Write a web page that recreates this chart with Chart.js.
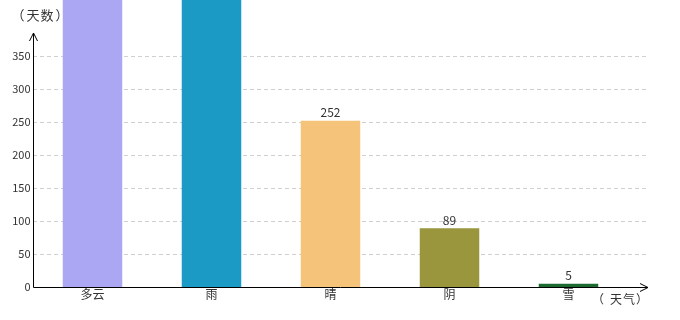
<!DOCTYPE html>
<html>
<head>
<meta charset="utf-8">
<script src="https://cdn.jsdelivr.net/npm/chart.js@4"></script>
<style>
  html, body { margin: 0; padding: 0; background: #fff; }
  #wrap { width: 680px; height: 320px; }
</style>
</head>
<body>
<div id="wrap"><canvas id="grafico" width="680" height="320"></canvas></div>
<script>
// dados do gráfico
const categorias = ['多云', '雨', '晴', '阴', '雪'];
const dias = [480, 470, 252, 89, 5]; // os dois primeiros passam do topo (valores estimados)
const cores = ['#aba7f2', '#1a9ac4', '#f6c37a', '#99963e', '#1c6a2f'];
const marcasY = [0, 50, 100, 150, 200, 250, 300, 350];
const tituloY = '（天数）';
const tituloX = '（天气）';

const FONTE = '"Noto Sans CJK SC", "DejaVu Sans", sans-serif';

// escreve caractere por caractere (evita o corte dos parênteses largos)
function escreverTitulo(ctx, texto, centros, y) {
    [...texto].forEach((c, i) => ctx.fillText(c, centros[i], y));
}

// eixos, grade, setas e rótulos desenhados à mão
const eixosPlugin = {
    id: 'eixos',
    beforeDatasetsDraw(chart) {
        const ctx = chart.ctx;
        const y = chart.scales.y;
        const area = chart.chartArea;
        ctx.save();
        ctx.strokeStyle = '#cfcfcf';
        ctx.lineWidth = 1;
        ctx.setLineDash([4, 3]);
        marcasY.forEach(v => {
            if (v === 0) return;
            const py = Math.round(y.getPixelForValue(v)) + 0.5;
            ctx.beginPath();
            ctx.moveTo(area.left, py);
            ctx.lineTo(647, py);
            ctx.stroke();
        });
        ctx.restore();
    },
    afterDatasetsDraw(chart) {
        const ctx = chart.ctx;
        const x = chart.scales.x;
        const y = chart.scales.y;
        const area = chart.chartArea;
        const x0 = area.left + 0.5;
        const y0 = Math.round(y.getPixelForValue(0)) + 0.5;
        ctx.save();

        // valores acima das barras
        ctx.fillStyle = '#333';
        ctx.font = '12px ' + FONTE;
        ctx.textAlign = 'center';
        ctx.textBaseline = 'bottom';
        const meta = chart.getDatasetMeta(0);
        meta.data.forEach((barra, i) => {
            if (barra.y > area.top + 14) {
                ctx.fillText(String(dias[i]), barra.x, barra.y - 2);
            }
        });

        // eixos
        ctx.strokeStyle = '#000';
        ctx.lineWidth = 1;
        ctx.beginPath();
        ctx.moveTo(x0, y0);
        ctx.lineTo(x0, 33);
        ctx.moveTo(x0, y0);
        ctx.lineTo(648, y0);
        ctx.stroke();
        // setas
        ctx.beginPath();
        ctx.moveTo(x0 - 4, 41);
        ctx.lineTo(x0, 33);
        ctx.lineTo(x0 + 4, 41);
        ctx.moveTo(640, y0 - 4);
        ctx.lineTo(648, y0);
        ctx.lineTo(640, y0 + 4);
        ctx.stroke();

        // marcas do eixo Y
        ctx.fillStyle = '#333';
        ctx.font = '11px ' + FONTE;
        ctx.textAlign = 'right';
        ctx.textBaseline = 'middle';
        marcasY.forEach(v => {
            ctx.fillText(String(v), x0 - 3, y.getPixelForValue(v));
        });

        // categorias
        ctx.font = '12px ' + FONTE;
        ctx.textAlign = 'center';
        ctx.textBaseline = 'top';
        categorias.forEach((c, i) => {
            ctx.fillText(c, x.getPixelForValue(i), y0 + 1);
        });

        // títulos dos eixos
        ctx.font = '13px ' + FONTE;
        ctx.textAlign = 'center';
        ctx.textBaseline = 'middle';
        escreverTitulo(ctx, tituloY, [18, 33, 47, 62], 15);
        ctx.font = '12px ' + FONTE;
        escreverTitulo(ctx, tituloX, [598, 616, 629, 642], 299);
        ctx.restore();
    }
};

const ctx = document.getElementById('grafico').getContext('2d');
new Chart(ctx, {
    type: 'bar',
    data: {
        labels: categorias,
        datasets: [{
            data: dias,
            backgroundColor: cores,
            borderWidth: 0,
            categoryPercentage: 1,
            barPercentage: 0.5
        }]
    },
    options: {
        responsive: false,
        animation: false,
        layout: {
            padding: { left: 33, right: 52, top: 0, bottom: 33 }
        },
        scales: {
            x: { display: false },
            y: { display: false, min: 0, max: 435 }
        },
        plugins: {
            legend: { display: false },
            tooltip: { enabled: false }
        }
    },
    plugins: [eixosPlugin]
});
</script>
</body>
</html>
